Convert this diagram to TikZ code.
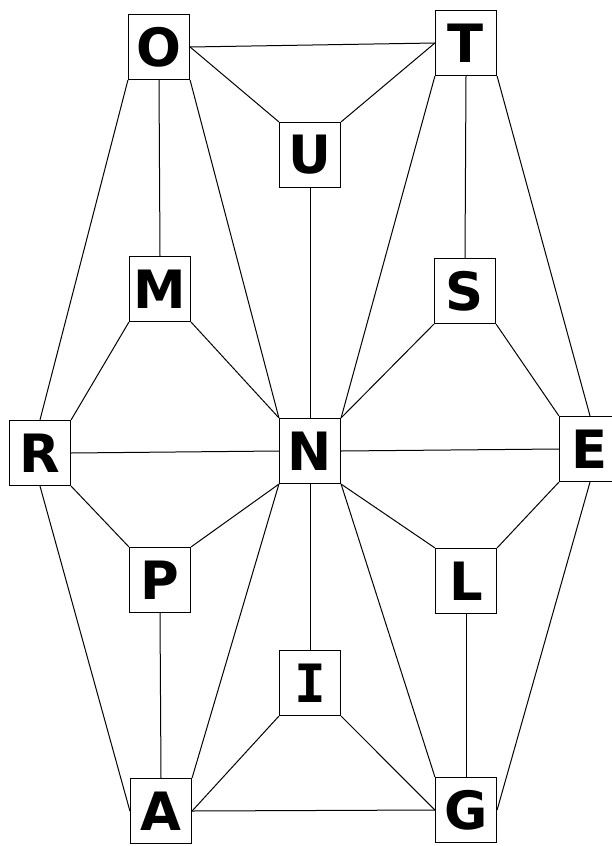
\documentclass[tikz,border=0pt]{standalone}
\usepackage{fontspec}
\setmainfont{DejaVu Sans}
\newfontfamily\slabfont{DejaVu Sans Mono}

\begin{document}
\begin{tikzpicture}[x=1bp,y=-1bp,
box/.style={rectangle,draw,line width=1.2bp,minimum width=61bp,minimum height=65bp,inner sep=0pt,font=\fontsize{53}{53}\selectfont\bfseries},
link/.style={line width=1bp}]
\useasboundingbox (0,0) rectangle (612,846);
\node [box] (nO) at (159,47) {O};
\node [box] (nT) at (466,43) {T};
\node [box] (nU) at (310,155) {U};
\node [box] (nM) at (160,289) {M};
\node [box] (nS) at (465,291) {S};
\node [box] (nR) at (40,453) {R};
\node [box] (nN) at (310,451) {N};
\node [box] (nE) at (590,449) {E};
\node [box] (nP) at (160,580) {P};
\node [box] (nL) at (466,581) {L};
\node [box] (nI) at (310,683) {\slabfont I};
\node [box] (nA) at (161,811) {A};
\node [box] (nG) at (466,810) {G};
\draw [link] (nO.east) -- (nT.west);
\draw [link] (nO.east) -- (nU.north west);
\draw [link] (nT.west) -- (nU.north east);
\draw [link] (nO.south west) -- (nR.north);
\draw [link] (nO.south) -- (nM.north);
\draw [link] (nO.south east) -- (nN.north west);
\draw [link] (nT.south west) -- (nN.north east);
\draw [link] (nT.south) -- (nS.north);
\draw [link] (nT.south east) -- (nE.north);
\draw [link] (nU.south) -- (nN.north);
\draw [link] (nM.south west) -- (nR.north east);
\draw [link] (nM.south east) -- (nN.north west);
\draw [link] (nS.south west) -- (nN.north east);
\draw [link] (nS.south east) -- (nE.north west);
\draw [link] (nR.east) -- (nN.west);
\draw [link] (nN.east) -- (nE.west);
\draw [link] (nR.south east) -- (nP.north west);
\draw [link] (nN.south west) -- (nP.north east);
\draw [link] (nN.south east) -- (nL.north west);
\draw [link] (nE.south west) -- (nL.north east);
\draw [link] (nN.south) -- (nI.north);
\draw [link] (nR.south) -- (nA.west);
\draw [link] (nP.south) -- (nA.north);
\draw [link] (nN.south west) -- (nA.north east);
\draw [link] (nN.south east) -- (nG.north west);
\draw [link] (nL.south) -- (nG.north);
\draw [link] (nE.south) -- (nG.east);
\draw [link] (nI.south west) -- (nA.east);
\draw [link] (nI.south east) -- (nG.west);
\draw [link] (nA.east) -- (nG.west);
\end{tikzpicture}
\end{document}
